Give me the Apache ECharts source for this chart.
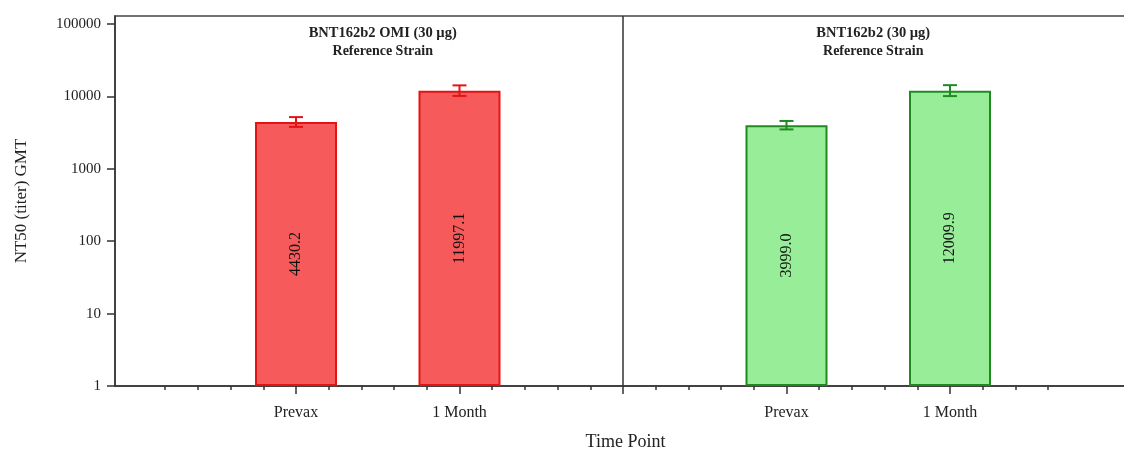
<!DOCTYPE html>
<html>
<head>
<meta charset="utf-8">
<script src="https://cdn.jsdelivr.net/npm/echarts@6/dist/echarts.min.js"></script>
<style>
  html, body { margin: 0; padding: 0; background: #ffffff; }
  #chart { width: 1124px; height: 453px; }
</style>
</head>
<body>
<div id="chart"></div>
<script>
// Vaccine groups and time points
const groupNames = ['BNT162b2 OMI (30 µg)', 'BNT162b2 (30 µg)'];
const groupSubtitle = 'Reference Strain';
const timePoints = ['Prevax', '1 Month'];

// Geometric mean titers with 95% confidence limits, per group and time point
const omiGMT = [4430.2, 11997.1];
const omiLower = [3790, 10150];
const omiUpper = [5180, 14200];
const bntGMT = [3999.0, 12009.9];
const bntLower = [3500, 10100];
const bntUpper = [4580, 14300];

// Log axis labels
const yTickValues = [1, 10, 100, 1000, 10000, 100000];

const FONT = 'Liberation Serif';
const groupColors = [
  { fill: '#f65a5a', line: '#e41414' },
  { fill: '#98ee98', line: '#1f8a1f' }
];

// x layout: one unit per minor tick, five units between time points,
// groups separated by a divider at the midpoint
const UNIT_PER_TIME = 5;
const UNIT_PER_GROUP = 15;
const DIVIDER = 10;
const xPos = (g, t) => g * UNIT_PER_GROUP + t * UNIT_PER_TIME;

const gmtByGroup = [omiGMT, bntGMT];
const lowByGroup = [omiLower, bntLower];
const upByGroup = [omiUpper, bntUpper];

const minorTicks = [];
for (let v = -4; v <= 23; v++) if (v % 5 !== 0) minorTicks.push(v);
const majorTicks = [0, 5, 10, 15, 20];
const labelTicks = [];
groupNames.forEach((_, g) => timePoints.forEach((_, t) => labelTicks.push(xPos(g, t))));

const chart = echarts.init(document.getElementById('chart'), null, { renderer: 'canvas' });

const barSeries = groupNames.map((name, g) => ({
  type: 'bar',
  name: name,
  xAxisIndex: 0,
  yAxisIndex: 0,
  barWidth: 82,
  barGap: '-100%',
  data: gmtByGroup[g].map((v, t) => [xPos(g, t), v]),
  itemStyle: { color: groupColors[g].fill, borderColor: groupColors[g].line, borderWidth: 2 },
  label: {
    show: true,
    position: 'inside',
    rotate: 90,
    fontFamily: FONT,
    fontSize: 16,
    color: '#111',
    formatter: p => p.value[1].toFixed(1)
  },
  emphasis: { disabled: true },
  z: 2
}));

const errorSeries = groupNames.map((name, g) => ({
  type: 'custom',
  name: name + ' CI',
  xAxisIndex: 0,
  yAxisIndex: 0,
  data: gmtByGroup[g].map((v, t) => [xPos(g, t), lowByGroup[g][t], upByGroup[g][t]]),
  renderItem: (params, api) => {
    const lo = api.coord([api.value(0), api.value(1)]);
    const hi = api.coord([api.value(0), api.value(2)]);
    const half = 7;
    const style = { stroke: groupColors[g].line, lineWidth: 2 };
    return {
      type: 'group',
      children: [
        { type: 'line', shape: { x1: lo[0], y1: lo[1], x2: hi[0], y2: hi[1] }, style },
        { type: 'line', shape: { x1: lo[0] - half, y1: lo[1], x2: lo[0] + half, y2: lo[1] }, style },
        { type: 'line', shape: { x1: hi[0] - half, y1: hi[1], x2: hi[0] + half, y2: hi[1] }, style }
      ]
    };
  },
  z: 3
}));

// divider between the two vaccine groups
errorSeries[0].markLine = {
  silent: true,
  symbol: 'none',
  label: { show: false },
  lineStyle: { color: '#333', width: 1.5, type: 'solid' },
  data: [{ xAxis: DIVIDER }]
};

const axisColor = '#333';
const xMin = -5.535, unitPx = 32.7;
const gridLeft = 115, gridRight = -2;
const xMax = xMin + (1124 - gridLeft - gridRight) / unitPx;

const option = {
  animation: false,
  backgroundColor: '#ffffff',
  grid: {
    left: gridLeft, right: gridRight, top: 16, bottom: 67,
    outerBoundsMode: 'none', containLabel: false,
    show: true, borderColor: '#444', borderWidth: 1.5, backgroundColor: 'transparent'
  },
  xAxis: [
    {
      type: 'value', position: 'bottom', min: xMin, max: xMax,
      name: 'Time Point', nameLocation: 'middle', nameGap: 47,
      nameTextStyle: { fontFamily: FONT, fontSize: 18, color: '#222', padding: [0, 0, 0, 10] },
      axisLine: { show: true, onZero: false, lineStyle: { color: axisColor, width: 1.5 } },
      axisTick: { show: true, customValues: minorTicks, length: 4, lineStyle: { color: axisColor, width: 1.5 } },
      axisLabel: {
        show: true, customValues: labelTicks, margin: 19,
        fontFamily: FONT, fontSize: 16, color: '#222',
        formatter: v => timePoints[Math.round((v % UNIT_PER_GROUP) / UNIT_PER_TIME)]
      },
      splitLine: { show: false }
    },
    {
      type: 'value', position: 'bottom', min: xMin, max: xMax,
      axisLine: { show: false, onZero: false },
      axisTick: { show: true, customValues: majorTicks, length: 8, lineStyle: { color: axisColor, width: 1.5 } },
      axisLabel: { show: false },
      splitLine: { show: false }
    }
  ],
  yAxis: {
    type: 'log', logBase: 10, min: 1, max: 129000,
    name: 'NT50 (titer) GMT', nameLocation: 'middle', nameGap: 85,
    nameTextStyle: { fontFamily: FONT, fontSize: 17, color: '#222' },
    axisLine: { show: true, onZero: false, lineStyle: { color: axisColor, width: 1.5 } },
    axisTick: { show: true, customValues: yTickValues, length: 8, lineStyle: { color: axisColor, width: 1.5 } },
    axisLabel: {
      customValues: yTickValues, margin: 14,
      fontFamily: FONT, fontSize: 15, color: '#222',
      formatter: v => String(v)
    },
    splitLine: { show: false }
  },
  series: [...barSeries, ...errorSeries]
};

chart.setOption(option);

// group headings centred over each group's span
const headingCentres = [2.5, 17.5].map(v => chart.convertToPixel({ xAxisIndex: 0 }, v));
chart.setOption({
  title: groupNames.map((name, g) => ({
    text: name,
    subtext: groupSubtitle,
    left: headingCentres[g],
    top: 21,
    textAlign: 'center',
    itemGap: 3,
    textStyle: { fontFamily: FONT, fontSize: 14.5, fontWeight: 'bold', color: '#222' },
    subtextStyle: { fontFamily: FONT, fontSize: 14, fontWeight: 'bold', color: '#222' }
  }))
});
</script>
</body>
</html>
